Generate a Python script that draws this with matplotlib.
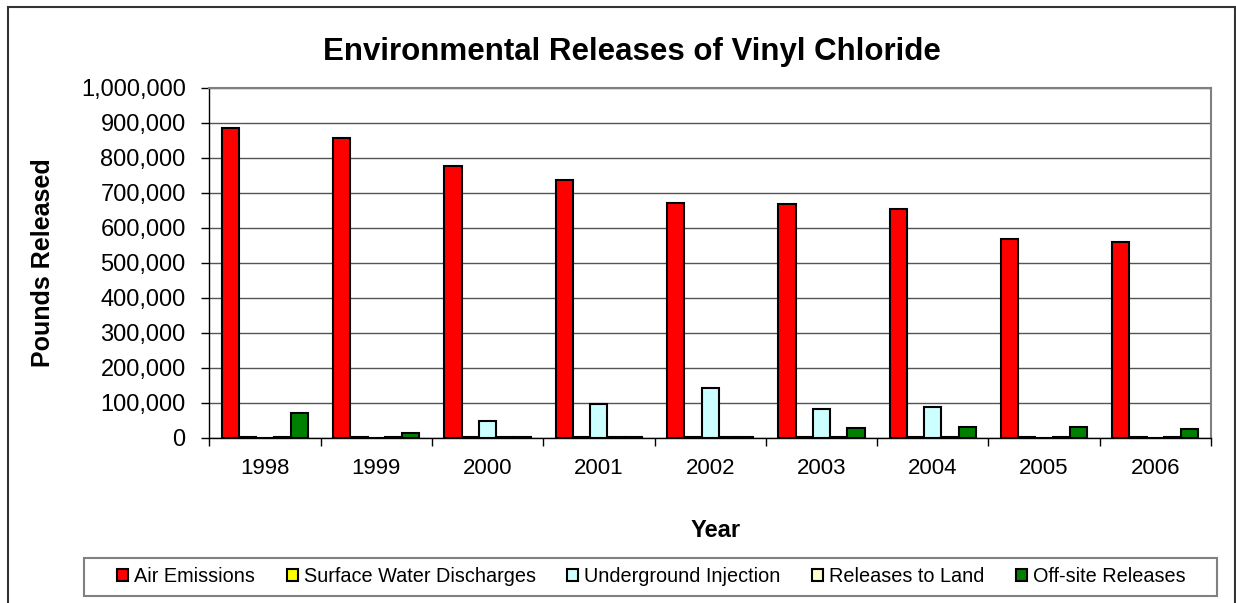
import numpy as np
import matplotlib.pyplot as plt
from matplotlib.patches import Patch, Rectangle
from matplotlib.ticker import FuncFormatter

plt.rcParams['font.family'] = ['Liberation Sans', 'DejaVu Sans']

years = ["1998", "1999", "2000", "2001", "2002", "2003", "2004", "2005", "2006"]
air = [885000, 856000, 776000, 736000, 671000, 668000, 654000, 567000, 559000]
surface = [800, 800, 600, 600, 600, 700, 700, 600, 600]
underground = [0, 0, 46000, 97000, 141000, 81000, 86000, 0, 0]
land = [500, 1500, 800, 1500, 500, 800, 500, 300, 2500]
offsite = [71000, 13000, 1200, 1500, 1000, 27000, 29000, 29000, 24000]

series = [("Air Emissions", air, "#ff0000"),
          ("Surface Water Discharges", surface, "#ffff00"),
          ("Underground Injection", underground, "#ccffff"),
          ("Releases to Land", land, "#ffffcc"),
          ("Off-site Releases", offsite, "#008000")]

W, H = 1236, 603
fig = plt.figure(figsize=(W / 100, H / 100), dpi=100)
ax = fig.add_axes([209.3 / W, (H - 437.5) / H, (1211 - 209.3) / W, 350 / H])

x = np.arange(len(years))
w = 0.155
for i, (name, vals, col) in enumerate(series):
    ax.bar(x + (i - 2) * w, vals, w, color=col, edgecolor="black", linewidth=1.5, zorder=3)

ax.set_xlim(-0.5, len(years) - 0.5)
ax.set_ylim(0, 1000000)
ax.set_yticks(np.arange(0, 1000001, 100000))
ax.yaxis.set_major_formatter(FuncFormatter(lambda v, p: f"{int(v):,}"))
ax.set_xticks(x)
ax.set_xticklabels(years)
ax.set_xticks(np.arange(-0.5, len(years)), minor=True)
ax.tick_params(axis="x", which="major", length=0, labelsize=16, pad=15)
ax.tick_params(axis="x", which="minor", length=6, width=1, direction="out")
ax.tick_params(axis="y", length=6, width=1, direction="out", labelsize=17, pad=11)
ax.grid(axis="y", color="#555555", linewidth=1, zorder=0)
for s in ["top", "right"]:
    ax.spines[s].set_color("#808080")
    ax.spines[s].set_linewidth(1.5)
for s in ["left", "bottom"]:
    ax.spines[s].set_color("black")
    ax.spines[s].set_linewidth(1)

ax.set_xlabel("Year", fontsize=17, fontweight="bold")
ax.set_ylabel("Pounds Released", fontsize=18, fontweight="bold")
ax.xaxis.set_label_coords((716 - 209.3) / (1211 - 209.3), -0.234)
ax.yaxis.set_label_coords((55 - 209.3) / (1211 - 209.3), 0.5)
fig.text(632 / W, 1 - 52 / H, "Environmental Releases of Vinyl Chloride",
         ha="center", va="center", fontsize=22.5, fontweight="bold")

handles = [Patch(facecolor=c, edgecolor="black", linewidth=1.5, label=n) for n, v, c in series]
leg = fig.legend(handles=handles, loc="center", ncol=5,
                 bbox_to_anchor=(651.5 / W, 1 - 577 / H),
                 fontsize=14.3, frameon=False,
                 handlelength=0.55, handleheight=0.55, handletextpad=0.3,
                 columnspacing=1.6, borderaxespad=0)

fig.patches.append(Rectangle((84 / W, (H - 596) / H), (1217 - 84) / W, 38 / H,
                             transform=fig.transFigure, fill=False,
                             edgecolor="#808080", linewidth=1.5))
fig.patches.append(Rectangle((8 / W, -0.05), (1235 - 8) / W, 1.05 - 7 / H,
                             transform=fig.transFigure, fill=False,
                             edgecolor="#333333", linewidth=1.5))

fig.savefig("out.png", dpi=100)
